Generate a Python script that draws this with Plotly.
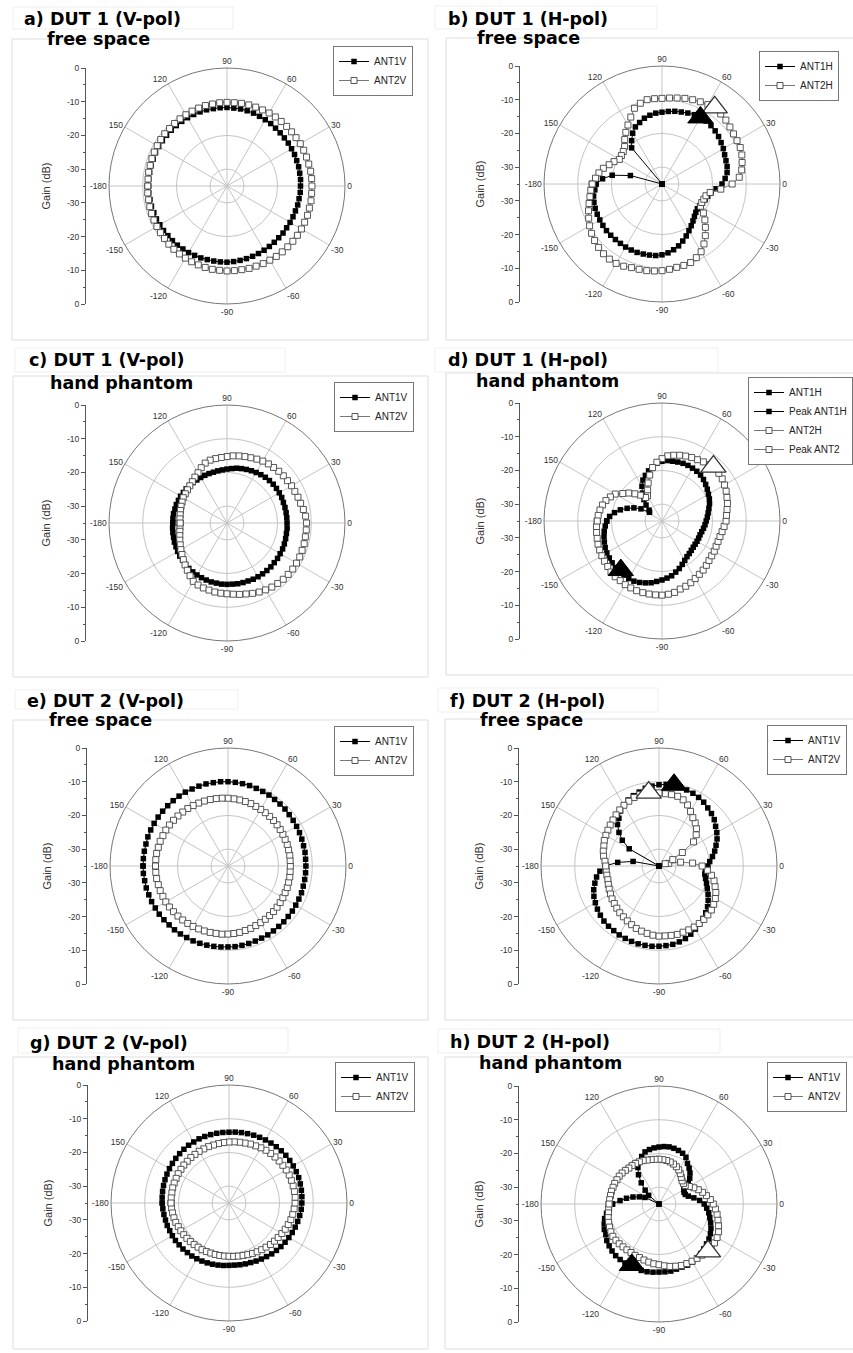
import plotly.graph_objects as go

W, H = 853, 1353
theta = list(range(-180, 180, 5))
angle_ticks = [0, 30, 60, 90, 120, 150, 180, 210, 240, 270, 300, 330]
angle_text = ["0", "30", "60", "90", "120", "150", "-180", "-150", "-120", "-90", "-60", "-30"]

# ---------------- data (gain in dB, theta = -180..175 step 5) ----------------
a_ant1 = [-11.7,-11.7,-11.8,-11.8,-11.9,-11.9,-12.0,-12.0,-12.1,-12.1,-12.1,-12.2,
          -12.2,-12.3,-12.3,-12.4,-12.4,-12.4,-12.4,-12.5,-12.6,-12.7,-12.8,-12.9,
          -13.0,-13.1,-13.2,-13.3,-13.3,-13.4,-13.4,-13.4,-13.4,-13.3,-13.3,-13.2,
          -13.2,-13.1,-13.1,-13.0,-13.0,-12.9,-12.9,-12.8,-12.8,-12.7,-12.6,-12.4,
          -12.3,-12.2,-12.0,-11.9,-11.8,-11.8,-11.7,-11.7,-11.7,-11.6,-11.6,-11.6,
          -11.6,-11.6,-11.6,-11.6,-11.6,-11.6,-11.6,-11.6,-11.7,-11.7,-11.7,-11.7]
a_ant2 = [-11.5,-11.4,-11.4,-11.3,-11.2,-11.1,-11.0,-10.9,-10.8,-10.6,-10.5,-10.4,
          -10.3,-10.2,-10.1,-10.0,-9.9,-9.9,-9.8,-9.8,-9.8,-9.7,-9.7,-9.6,
          -9.6,-9.5,-9.5,-9.5,-9.5,-9.5,-9.5,-9.6,-9.6,-9.7,-9.7,-9.8,
          -9.8,-9.8,-9.8,-9.9,-9.9,-9.9,-9.9,-10.0,-10.0,-10.0,-10.0,-10.0,
          -10.0,-10.1,-10.1,-10.1,-10.1,-10.2,-10.2,-10.2,-10.3,-10.3,-10.4,-10.5,
          -10.6,-10.7,-10.8,-10.9,-10.9,-11.0,-11.1,-11.2,-11.3,-11.4,-11.4,-11.5]

b_ant1 = [-15.5,-15.0,-14.4,-14.1,-13.9,-13.8,-13.7,-13.6,-13.5,-13.5,-13.5,-13.5,
          -13.4,-13.4,-13.4,-13.5,-13.6,-13.7,-14.0,-14.5,-15.2,-16.0,-17.0,-18.0,
          -19.0,-19.9,-20.7,-21.4,-21.9,-22.2,-22.1,-21.8,-21.4,-21.0,-20.2,-18.9,
          -17.2,-16.2,-15.4,-15.0,-14.8,-14.5,-14.0,-13.6,-13.1,-12.7,-12.4,-12.2,
          -12.1,-12.3,-12.6,-12.9,-13.1,-13.4,-13.7,-13.9,-14.3,-14.8,-15.6,-16.3,
          -17.6,-19.3,-21.0,-35.0,-35.0,-35.0,-35.0,-35.0,-35.0,-25.3,-20.0,-17.3]
b_ant2 = [-14.3,-13.8,-13.3,-12.6,-11.8,-11.0,-10.2,-9.5,-8.9,-8.4,-8.0,-7.8,
          -7.8,-8.1,-8.6,-8.8,-8.9,-9.1,-9.3,-9.6,-9.9,-10.0,-10.2,-10.9,
          -11.8,-13.3,-15.0,-16.8,-18.4,-20.0,-21.8,-22.0,-21.8,-21.5,-20.5,-17.5,
          -14.2,-12.0,-11.0,-10.4,-9.8,-9.4,-9.3,-9.1,-8.7,-8.2,-7.9,-7.6,
          -7.8,-8.1,-8.4,-8.7,-9.1,-9.4,-9.6,-9.6,-9.6,-10.2,-11.1,-13.1,
          -14.8,-16.3,-17.8,-19.3,-20.0,-20.3,-20.4,-19.3,-18.3,-17.0,-16.0,-15.2]
b_peak1 = ([60], [-12.2])
b_peak2 = ([55.5], [-7.4])

c_ant1 = [-18.9,-18.8,-18.7,-18.6,-18.4,-18.3,-18.1,-17.9,-17.8,-17.6,-17.4,-17.3,
          -17.2,-17.1,-17.0,-16.9,-16.9,-16.8,-16.8,-16.8,-16.7,-16.7,-16.7,-16.6,
          -16.6,-16.6,-16.6,-16.6,-16.7,-16.7,-16.8,-16.8,-16.9,-17.0,-17.1,-17.1,
          -17.2,-17.2,-17.2,-17.2,-17.2,-17.1,-17.1,-17.1,-17.1,-17.2,-17.3,-17.5,
          -17.7,-17.9,-18.1,-18.3,-18.5,-18.8,-19.0,-19.2,-19.3,-19.4,-19.4,-19.4,
          -19.4,-19.4,-19.3,-19.3,-19.2,-19.2,-19.1,-19.1,-19.0,-19.0,-18.9,-18.9]
c_ant2 = [-21.1,-21.0,-20.8,-20.5,-20.1,-19.7,-19.2,-18.7,-18.1,-17.4,-16.7,-15.9,
          -15.0,-14.7,-14.5,-14.4,-14.2,-14.1,-14.0,-13.8,-13.5,-13.2,-12.8,-12.4,
          -12.1,-11.8,-11.6,-11.4,-11.3,-11.2,-11.2,-11.2,-11.3,-11.3,-11.4,-11.4,
          -11.4,-11.6,-12.0,-12.4,-12.6,-12.8,-12.9,-13.1,-13.2,-13.3,-13.5,-13.6,
          -13.8,-14.1,-14.4,-14.6,-14.8,-15.0,-15.3,-15.5,-15.6,-15.7,-16.1,-16.9,
          -17.8,-18.4,-19.0,-19.4,-19.7,-19.9,-20.0,-20.3,-20.5,-20.7,-20.9,-21.0]

d_ant1 = [-18.6,-18.1,-17.6,-17.2,-16.8,-16.4,-16.1,-15.9,-15.7,-15.5,-15.4,-15.4,
          -15.3,-15.3,-15.6,-16.0,-16.4,-17.0,-17.5,-18.0,-18.5,-19.3,-20.0,-20.8,
          -21.5,-22.1,-22.4,-22.7,-22.9,-23.0,-23.0,-23.0,-23.0,-22.8,-22.5,-22.2,
          -21.9,-21.5,-21.1,-20.6,-20.0,-19.5,-19.1,-18.6,-18.1,-17.6,-17.2,-17.0,
          -16.9,-16.8,-16.8,-16.9,-17.0,-17.0,-17.3,-17.8,-18.8,-19.6,-20.6,-21.6,
          -23.1,-24.9,-26.7,-28.3,-30.0,-30.5,-27.8,-25.8,-24.0,-22.2,-20.7,-19.4]
d_ant2 = [-15.8,-15.5,-15.3,-15.1,-14.8,-14.6,-14.4,-14.2,-14.0,-13.6,-13.4,-13.4,
          -13.2,-13.1,-13.0,-13.0,-13.0,-13.0,-13.0,-13.2,-13.5,-14.1,-14.4,-14.8,
          -15.3,-15.7,-16.0,-16.4,-16.8,-17.0,-17.1,-17.3,-17.3,-17.2,-16.9,-16.5,
          -16.0,-15.8,-15.4,-14.9,-14.5,-14.0,-13.6,-13.2,-13.0,-12.8,-13.2,-13.6,
          -14.0,-14.2,-14.5,-14.8,-15.2,-15.6,-16.5,-17.5,-18.9,-20.9,-23.0,-24.9,
          -26.4,-26.5,-25.0,-23.6,-22.1,-20.8,-19.0,-18.1,-17.3,-16.7,-16.3,-16.0]
d_peak1 = ([-130], [-16.0])
d_peak2 = ([46.6], [-12.8])

e_ant1 = [-9.8,-9.8,-9.9,-9.9,-10.0,-10.0,-10.1,-10.1,-10.2,-10.3,-10.3,-10.4,
          -10.5,-10.5,-10.6,-10.7,-10.8,-10.9,-11.0,-11.0,-11.1,-11.2,-11.3,-11.4,
          -11.4,-11.5,-11.6,-11.6,-11.7,-11.7,-11.8,-11.8,-11.8,-11.9,-11.9,-11.9,
          -11.9,-11.9,-11.8,-11.8,-11.7,-11.6,-11.5,-11.4,-11.3,-11.1,-11.0,-10.9,
          -10.7,-10.6,-10.5,-10.3,-10.2,-10.1,-10.0,-9.9,-9.9,-9.8,-9.8,-9.8,
          -9.7,-9.7,-9.7,-9.7,-9.7,-9.7,-9.7,-9.7,-9.7,-9.8,-9.8,-9.8]
e_ant2 = [-13.5,-13.5,-13.5,-13.6,-13.6,-13.7,-13.7,-13.8,-13.9,-14.0,-14.1,-14.2,
          -14.3,-14.4,-14.5,-14.6,-14.7,-14.7,-14.8,-14.9,-15.0,-15.2,-15.3,-15.5,
          -15.6,-15.7,-15.8,-15.9,-16.0,-16.1,-16.2,-16.3,-16.3,-16.4,-16.4,-16.5,
          -16.5,-16.5,-16.4,-16.4,-16.3,-16.3,-16.2,-16.1,-16.0,-15.9,-15.8,-15.7,
          -15.6,-15.5,-15.3,-15.2,-15.1,-15.0,-14.9,-14.8,-14.7,-14.6,-14.5,-14.4,
          -14.3,-14.2,-14.1,-14.0,-13.9,-13.8,-13.7,-13.7,-13.6,-13.6,-13.5,-13.5]

f_ant1 = [-19.0,-17.4,-16.2,-15.3,-14.4,-13.7,-13.2,-12.7,-12.3,-11.9,-11.7,-11.6,
          -11.4,-11.3,-11.2,-11.1,-11.1,-11.1,-11.2,-11.3,-11.4,-11.7,-12.1,-12.7,
          -13.4,-14.0,-14.7,-15.4,-16.2,-17.2,-18.2,-19.2,-20.0,-20.7,-21.2,-21.2,
          -20.5,-19.9,-18.9,-17.9,-17.0,-16.0,-15.2,-14.5,-13.6,-13.0,-12.5,-11.9,
          -11.5,-11.2,-11.0,-10.7,-10.5,-10.7,-10.9,-11.2,-11.6,-12.3,-12.8,-13.4,
          -14.2,-15.1,-16.5,-17.6,-19.5,-21.7,-24.8,-35.0,-35.0,-35.0,-27.2,-22.7]
f_ant2 = [-19.2,-19.3,-19.3,-19.3,-19.0,-18.7,-18.4,-18.0,-17.7,-17.3,-16.9,-16.6,
          -16.2,-15.8,-15.3,-15.0,-14.7,-14.4,-14.2,-14.2,-14.1,-14.0,-14.1,-14.1,
          -14.1,-14.2,-14.3,-14.5,-14.7,-15.2,-15.7,-16.4,-17.3,-18.1,-19.2,-20.6,
          -22.2,-25.0,-28.5,-32.0,-33.0,-30.5,-27.0,-22.5,-20.6,-19.3,-18.3,-17.5,
          -16.3,-15.0,-14.1,-13.6,-13.5,-13.5,-13.3,-13.0,-12.7,-13.0,-13.4,-13.8,
          -14.2,-14.7,-15.2,-15.7,-16.1,-16.5,-16.8,-17.1,-17.6,-17.9,-18.3,-18.9]
f_peak1 = ([79.5], [-10.5])
f_peak2 = ([98], [-13.0])

g_ant1 = [-15.2,-15.3,-15.4,-15.5,-15.5,-15.6,-15.6,-15.6,-15.7,-15.7,-15.8,-15.8,
          -15.9,-16.0,-16.1,-16.2,-16.3,-16.4,-16.5,-16.5,-16.4,-16.3,-16.2,-16.0,
          -15.8,-15.6,-15.3,-15.1,-14.9,-14.7,-14.5,-14.3,-14.1,-13.9,-13.7,-13.5,
          -13.4,-13.3,-13.2,-13.1,-13.0,-13.0,-13.0,-13.0,-13.0,-13.1,-13.2,-13.3,
          -13.4,-13.5,-13.6,-13.7,-13.8,-13.9,-14.0,-14.0,-14.0,-14.0,-14.0,-14.0,
          -14.1,-14.1,-14.2,-14.3,-14.4,-14.5,-14.6,-14.7,-14.8,-14.9,-15.0,-15.1]
g_ant2 = [-17.8,-17.9,-18.0,-18.1,-18.2,-18.4,-18.5,-18.6,-18.7,-18.8,-18.9,-19.0,
          -19.0,-19.1,-19.2,-19.2,-19.2,-19.2,-19.2,-19.1,-19.0,-18.9,-18.7,-18.5,
          -18.3,-18.1,-17.9,-17.6,-17.4,-17.2,-16.9,-16.6,-16.3,-16.0,-15.8,-15.6,
          -15.4,-15.3,-15.3,-15.3,-15.3,-15.3,-15.4,-15.5,-15.6,-15.7,-15.8,-15.9,
          -16.1,-16.3,-16.4,-16.6,-16.7,-16.8,-16.9,-17.0,-17.1,-17.2,-17.2,-17.3,
          -17.3,-17.4,-17.4,-17.5,-17.5,-17.6,-17.6,-17.7,-17.7,-17.7,-17.8,-17.8]

h_ant1 = [-21.2,-20.2,-19.2,-18.3,-17.7,-17.1,-16.8,-16.1,-15.7,-15.3,-15.0,-14.9,
          -14.8,-14.8,-14.8,-14.6,-14.6,-14.7,-14.8,-14.8,-14.8,-15.0,-15.1,-15.0,
          -15.1,-15.4,-15.8,-16.2,-16.6,-16.9,-17.4,-18.0,-18.7,-19.4,-20.0,-20.8,
          -21.6,-22.9,-24.5,-26.0,-26.7,-26.8,-26.5,-24.4,-23.1,-22.0,-21.1,-20.3,
          -19.0,-18.4,-18.1,-17.9,-17.8,-17.9,-18.1,-18.3,-18.6,-19.0,-20.0,-21.2,
          -22.5,-24.4,-26.8,-29.2,-31.0,-35.0,-35.0,-30.4,-28.8,-27.0,-25.2,-23.4]
h_ant2 = [-20.2,-20.0,-19.8,-19.4,-19.1,-18.8,-18.5,-18.3,-18.3,-18.3,-18.4,-18.4,
          -18.4,-18.2,-18.1,-17.8,-17.5,-17.2,-17.0,-16.6,-16.2,-15.9,-15.6,-15.5,
          -15.4,-15.3,-15.2,-14.8,-14.8,-14.9,-15.1,-15.5,-16.2,-16.9,-17.5,-18.2,
          -18.9,-19.7,-20.7,-21.6,-22.6,-23.6,-24.6,-25.5,-25.5,-25.3,-24.7,-24.0,
          -23.3,-22.8,-22.4,-22.1,-21.9,-21.8,-21.7,-21.7,-21.6,-21.5,-21.3,-21.2,
          -21.1,-21.1,-21.1,-20.9,-20.7,-20.6,-20.6,-20.5,-20.5,-20.4,-20.4,-20.3]
h_peak1 = ([-114], [-15.2])
h_peak2 = ([-44], [-14.8])

titles = ["a) DUT 1 (V-pol)", "b) DUT 1 (H-pol)", "c) DUT 1 (V-pol)", "d) DUT 1 (H-pol)",
          "e) DUT 2 (V-pol)", "f) DUT 2 (H-pol)", "g) DUT 2 (V-pol)", "h) DUT 2 (H-pol)"]
subtitles = ["free space", "free space", "hand phantom", "hand phantom",
             "free space", "free space", "hand phantom", "hand phantom"]
series1 = [a_ant1, b_ant1, c_ant1, d_ant1, e_ant1, f_ant1, g_ant1, h_ant1]
series2 = [a_ant2, b_ant2, c_ant2, d_ant2, e_ant2, f_ant2, g_ant2, h_ant2]
names = [("ANT1V", "ANT2V"), ("ANT1H", "ANT2H"), ("ANT1V", "ANT2V"), ("ANT1H", "ANT2H"),
         ("ANT1V", "ANT2V"), ("ANT1V", "ANT2V"), ("ANT1V", "ANT2V"), ("ANT1V", "ANT2V")]
peaks = {1: (b_peak1, b_peak2), 3: (d_peak1, d_peak2), 5: (f_peak1, f_peak2), 7: (h_peak1, h_peak2)}

# ---------------- layout geometry (pixels) ----------------
R = 118
centers = [(227, 186), (662, 184), (227, 523), (662, 521), (228, 866), (659, 866), (229, 1203), (659, 1204)]
axis_x = [86, 520, 86, 520, 87, 519, 88, 519]
frames = [(12, 39, 428, 340), (446, 38, 860, 340), (13, 376, 428, 677), (446, 373, 860, 675),
          (13, 720, 428, 1020), (445, 719, 860, 1020), (13, 1057, 428, 1349), (445, 1057, 860, 1349)]
title_boxes = [(13, 7, 233, 29), (435, 6, 657, 29), (15, 348, 285, 372), (435, 348, 718, 372),
               (15, 690, 238, 709), (438, 688, 658, 712), (18, 1028, 288, 1053), (438, 1029, 720, 1053)]
title_pos = [(22, 25), (446, 25), (27, 366), (446, 366), (25, 706), (448, 706), (28, 1048), (448, 1047)]
sub_pos = [(45, 44), (475, 43), (48, 387), (474, 385), (47, 724), (478, 725), (50, 1068), (477, 1067)]
legend_pos = [(333, 46), (759, 51), (334, 382), (748, 377), (334, 726), (767, 725), (335, 1062), (767, 1062)]

def px(x):
    return x / W

def py(y):
    return 1 - y / H

fig = go.Figure()
layout = dict(template="none", width=W, height=H, margin=dict(l=0, r=0, t=0, b=0, autoexpand=False),
              paper_bgcolor="white", plot_bgcolor="rgba(0,0,0,0)", showlegend=True,
              font=dict(family="Liberation Sans", size=10, color="#333"))
shapes, annotations = [], []

GRID = "#c4c4c4"
MINOR = "#ececec"
FILLED = dict(symbol="square", size=5.5, color="black")
OPEN = dict(symbol="square", size=6, color="white", line=dict(color="#444", width=0.9))
TITLE_FONT = dict(family="DejaVu Sans", size=17.5, color="black", weight="bold")

for i in range(8):
    cx, cy = centers[i]
    dom_x = [px(cx - R), px(cx + R)]
    dom_y = [py(cy + R), py(cy - R)]
    minor_id = "polar" if i == 0 else f"polar{i + 1}"
    main_id = f"polar{i + 9}"
    leg_id = "legend" if i == 0 else f"legend{i + 1}"

    layout[minor_id] = dict(
        domain=dict(x=dom_x, y=dom_y), bgcolor="rgba(0,0,0,0)",
        radialaxis=dict(range=[-35, 0], tickvals=[-25, -15, -5], showticklabels=False,
                        showline=False, ticks="", gridcolor=MINOR, gridwidth=1),
        angularaxis=dict(tickvals=[15, 45, 75, 105, 135, 165, 195, 225, 255, 285, 315, 345],
                         showticklabels=False, showline=False, ticks="",
                         gridcolor=MINOR, gridwidth=1))
    layout[main_id] = dict(
        domain=dict(x=dom_x, y=dom_y), bgcolor="rgba(0,0,0,0)",
        radialaxis=dict(range=[-35, 0], tickvals=[-30, -20, -10], showticklabels=False,
                        showline=False, ticks="", gridcolor=GRID, gridwidth=1),
        angularaxis=dict(tickvals=angle_ticks, ticktext=angle_text, showline=True,
                         linecolor="#777", linewidth=1, ticks="", gridcolor=GRID, gridwidth=1,
                         tickfont=dict(family="Liberation Sans", size=8.5, color="#333")))

    n1, n2 = names[i]
    s1, s2 = series1[i], series2[i]
    fig.add_trace(go.Scatterpolar(
        theta=theta + [theta[0]], r=s1 + [s1[0]], subplot=main_id, name=n1, legend=leg_id,
        mode="lines+markers", line=dict(color="black", width=1), marker=FILLED))
    if i == 3:
        fig.add_trace(go.Scatterpolar(
            theta=[None], r=[None], subplot=main_id, name="Peak ANT1H", legend=leg_id,
            mode="lines+markers", line=dict(color="black", width=1), marker=FILLED))
    fig.add_trace(go.Scatterpolar(
        theta=theta + [theta[0]], r=s2 + [s2[0]], subplot=main_id, name=n2, legend=leg_id,
        mode="lines+markers", line=dict(color="#777", width=1), marker=OPEN))
    if i == 3:
        fig.add_trace(go.Scatterpolar(
            theta=[None], r=[None], subplot=main_id, name="Peak ANT2", legend=leg_id,
            mode="lines+markers", line=dict(color="#777", width=1), marker=OPEN))
    if i in peaks:
        p1, p2 = peaks[i]
        fig.add_trace(go.Scatterpolar(
            theta=p2[0], r=p2[1], subplot=main_id, showlegend=False, mode="markers",
            marker=dict(symbol="triangle-up", size=22, color="white", line=dict(color="#333", width=1.3))))
        fig.add_trace(go.Scatterpolar(
            theta=p1[0], r=p1[1], subplot=main_id, showlegend=False, mode="markers",
            marker=dict(symbol="triangle-up", size=22, color="black", line=dict(color="black", width=1))))

    lx, ly = legend_pos[i]
    layout[leg_id] = dict(x=px(lx), y=py(ly), xanchor="left", yanchor="top",
                          bgcolor="white", bordercolor="#777", borderwidth=1,
                          font=dict(family="Liberation Sans", size=10, color="#222"),
                          itemwidth=30, tracegroupgap=0, traceorder="normal")

    # left gain axis
    xa = "xaxis" if i == 0 else f"xaxis{i + 1}"
    ya = "yaxis" if i == 0 else f"yaxis{i + 1}"
    xref = "x" if i == 0 else f"x{i + 1}"
    yref = "y" if i == 0 else f"y{i + 1}"
    fig.add_trace(go.Scatter(x=[None], y=[None], xaxis=xref, yaxis=yref, showlegend=False,
                             hoverinfo="skip", mode="markers"))
    layout[xa] = dict(domain=[px(axis_x[i]), px(axis_x[i] + 2)], visible=False, range=[0, 1],
                      fixedrange=True, automargin=False)
    layout[ya] = dict(domain=dom_y, anchor=xref, range=[-35, 35], side="left", automargin=False,
                      tickvals=[35, 25, 15, 5, -5, -15, -25, -35],
                      ticktext=["0", "-10", "-20", "-30", "-30", "-20", "-10", "0"],
                      ticks="outside", ticklen=4, tickcolor="#555", showline=True,
                      linecolor="#555", linewidth=1, showgrid=False, zeroline=False,
                      minor=dict(dtick=5, tick0=0, ticks="outside", ticklen=2, tickcolor="#555"),
                      tickfont=dict(family="Liberation Sans", size=8.5, color="#333"),
                      title=dict(text="Gain (dB)", standoff=14,
                                 font=dict(family="Liberation Sans", size=11, color="#333")),
                      fixedrange=True)

    fx0, fy0, fx1, fy1 = frames[i]
    shapes.append(dict(type="rect", xref="paper", yref="paper", x0=px(fx0), x1=px(fx1),
                       y0=py(fy1), y1=py(fy0), line=dict(color="#dddddd", width=1), layer="below"))
    tx0, ty0, tx1, ty1 = title_boxes[i]
    shapes.append(dict(type="rect", xref="paper", yref="paper", x0=px(tx0), x1=px(tx1),
                       y0=py(ty1), y1=py(ty0), line=dict(color="#efefef", width=1), layer="below"))

    tx, tb = title_pos[i]
    annotations.append(dict(text=titles[i], x=px(tx), y=py(tb - 5.5), xref="paper", yref="paper",
                            xanchor="left", yanchor="middle", showarrow=False, font=TITLE_FONT))
    sx, sb = sub_pos[i]
    annotations.append(dict(text=subtitles[i], x=px(sx), y=py(sb - 4.5), xref="paper", yref="paper",
                            xanchor="left", yanchor="middle", showarrow=False, font=TITLE_FONT))

layout["shapes"] = shapes
layout["annotations"] = annotations
fig.update_layout(**layout)
fig.write_html("out.html")
